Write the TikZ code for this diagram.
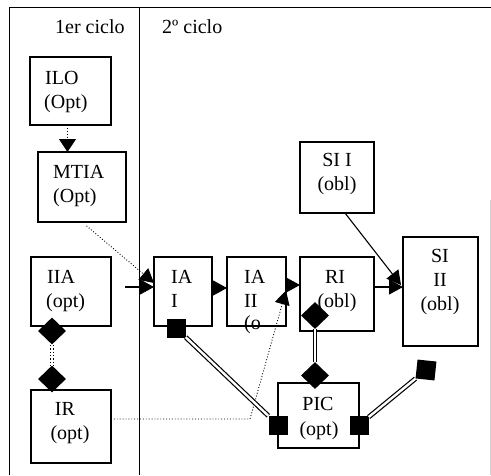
\documentclass[tikz,border=0pt]{standalone}
\usepackage{fontspec}
\setmainfont{Liberation Serif}
\usetikzlibrary{arrows.meta,shapes.geometric}
\begin{document}
\begin{tikzpicture}[x=1pt,y=-1pt,
  box/.style={draw, line width=1.2pt, inner sep=0pt, outer sep=0pt},
  tx/.style={inner sep=0pt, anchor=base west, font=\fontsize{20}{24}\selectfont},
  tc/.style={inner sep=0pt, anchor=base, font=\fontsize{20}{24}\selectfont},
  dia/.style={diamond, fill=black, inner sep=0pt, minimum width=28pt, minimum height=27pt},
  sq/.style={rectangle, fill=black, inner sep=0pt, minimum size=19pt},
  arr/.style={line width=1.1pt, -{Triangle[length=14pt,width=15pt]}},
  darr/.style={line width=0.9pt, dotted, -{Triangle[length=14pt,width=15pt]}},
  dbl/.style={line width=1.2pt, double, double distance=2.4pt},
  frame/.style={line width=1pt}]
\useasboundingbox (0,0) rectangle (491,475);
% frame
\draw[frame] (9,475) -- (9,7) -- (491,7);
\draw[frame] (139,7) -- (139,475);
\draw[gray!35, line width=0.8pt] (490,200) -- (490,475);
\node[tx] (c1) at (55,33) {1er ciclo};
\node[tx] (c2) at (162,33) {2º ciclo};
% boxes
\node[box, minimum width=81pt, minimum height=68pt] (ILO) at (70.5,91) {};
\node[box, minimum width=88pt, minimum height=70pt] (MTIA) at (82,187) {};
\node[box, minimum width=80pt, minimum height=69pt] (IIA) at (71,291.5) {};
\node[box, minimum width=80pt, minimum height=73pt] (IR) at (71,426.5) {};
\node[box, minimum width=58pt, minimum height=69pt] (IAI) at (183,291.5) {};
\node[box, minimum width=59pt, minimum height=69pt] (IAII) at (256.5,291.5) {};
\node[box, minimum width=74pt, minimum height=74pt] (RI) at (337,294) {};
\node[box, minimum width=74pt, minimum height=71pt] (SII) at (337,177.5) {};
\node[box, minimum width=75pt, minimum height=109pt] (SIII) at (440.5,291.5) {};
\node[box, minimum width=81pt, minimum height=65pt] (PIC) at (318.5,415.5) {};
% texts
\node[tx] (t1) at (45,84) {ILO};
\node[tx] (t2) at (44,108) {(Opt)};
\node[tx] (t3) at (53,178) {MTIA};
\node[tx] (t4) at (53,202) {(Opt)};
\node[tx] (t5) at (47,283) {IIA};
\node[tx] (t6) at (46,307) {(opt)};
\node[tc] (t7) at (65,415) {IR};
\node[tc] (t8) at (70,439) {(opt)};
\node[tx] (t9) at (171,283) {IA};
\node[tx] (t10) at (171,307) {I};
\node[tx] (t11) at (244,283) {IA};
\node[tx] (t12) at (244,307) {II};
\node[tx] (t13) at (244,329) {(o};
\node[tc] (t14) at (335,283) {RI};
\node[tc] (t15) at (337,307) {(obl)};
\node[tc] (t16) at (337,166) {SI I};
\node[tc] (t17) at (337,190) {(obl)};
\node[tc] (t18) at (440,262) {SI};
\node[tc] (t19) at (440,286) {II};
\node[tc] (t20) at (440,310) {(obl)};
\node[tc] (t21) at (318,410) {PIC};
\node[tc] (t22) at (319,435) {(opt)};
% diamonds and squares
\node[dia] (d1) at (52,331) {};
\node[dia] (d2) at (52,379) {};
\node[dia] (d3) at (315,315.5) {};
\node[dia] (d4) at (315,375.5) {};
\node[sq] (s1) at (176,328) {};
\node[sq] (s2) at (278,425) {};
\node[sq] (s3) at (359,425) {};
\node[sq, rotate=-6] (s4) at (426,370) {};
% connectors
\draw[line width=0.9pt, dotted, -{Triangle[length=13pt,width=17pt]}] ([xshift=-3pt]ILO.south) -- ([xshift=-3pt]ILO.south |- MTIA.north);
\draw[darr, shorten <=6pt] (MTIA.south) -- ([yshift=8.5pt]IAI.west);
\draw[arr, shorten <=14pt] ([yshift=4.5pt]IIA.east) -- ([yshift=4.5pt]IAI.west);
\draw[arr] ([yshift=3.5pt]IAI.east) -- ([yshift=3.5pt]IAII.west);
\draw[arr] ([yshift=6.5pt]IAII.east) -- ([yshift=9pt]RI.west);
\draw[arr] ([yshift=7pt]RI.east) -- ([yshift=4.5pt]SIII.west);
\draw[arr] ([xshift=8pt]SII.south) -- ([xshift=-2pt,yshift=6.5pt]SIII.west);
\coordinate (bend) at (250,419);
\draw[darr] ([yshift=7.5pt]IR.east) -- (bend) -- ([yshift=1pt]IAII.east);
\draw[line width=1.4pt, double, double distance=2pt, dotted] (d1) -- (d2);
\draw[dbl] (d3) -- (d4);
\draw[dbl] (s1) -- (s2);
\draw[dbl] (s3) -- (s4);
\end{tikzpicture}
\end{document}
